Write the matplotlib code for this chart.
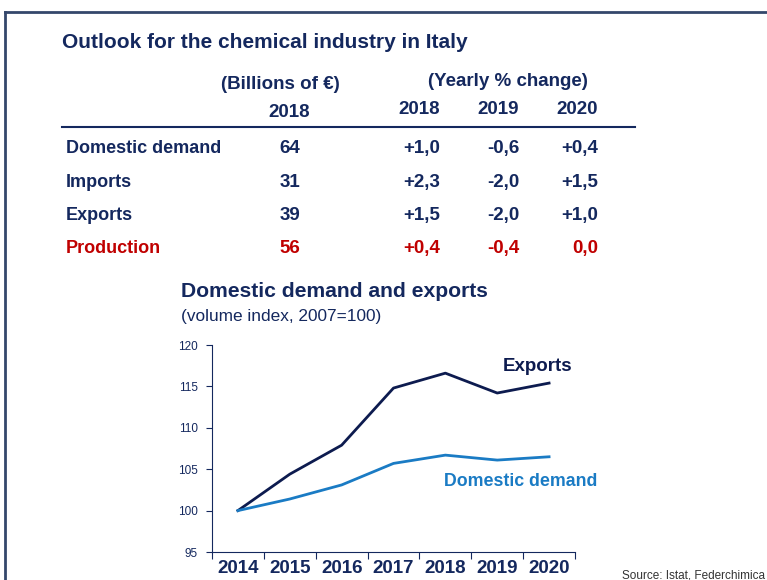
import matplotlib.pyplot as plt

# Table data
row_names = ['Domestic demand', 'Imports', 'Exports', 'Production']
value_2018 = ['64', '31', '39', '56']
change_2018 = ['+1,0', '+2,3', '+1,5', '+0,4']
change_2019 = ['-0,6', '-2,0', '-2,0', '-0,4']
change_2020 = ['+0,4', '+1,5', '+1,0', '0,0']

# Volume index series
years = ['2014', '2015', '2016', '2017', '2018', '2019', '2020']
exports = [100.0, 104.4, 107.9, 114.8, 116.6, 114.2, 115.4]
domestic = [100.0, 101.4, 103.1, 105.7, 106.7, 106.1, 106.5]

plt.rcParams['font.family'] = ['Liberation Sans', 'DejaVu Sans']

NAVY = '#14285e'
DARK = '#0d1b4f'
BLUE = '#1a7bc4'
RED = '#c00000'
W, H = 767, 580

fig = plt.figure(figsize=(W / 100, H / 100), dpi=100)
fig.patch.set_facecolor('white')


def px(x, y):
    return x / W, 1 - y / H


def txt(x, y, s, **kw):
    kw.setdefault('color', NAVY)
    kw.setdefault('va', 'baseline')
    fig.text(*px(x, y), s, **kw)


# frame around the slide
fig.add_artist(plt.Line2D([5 / W, 1], [1 - 12 / H] * 2, color='#34476b', lw=2))
fig.add_artist(plt.Line2D([5 / W] * 2, [0, 1 - 12 / H], color='#34476b', lw=2))

txt(62, 48, 'Outlook for the chemical industry in Italy', fontsize=15, fontweight='bold')
txt(280, 89, '(Billions of €)', fontsize=13.5, fontweight='bold', ha='center')
txt(508, 86, '(Yearly % change)', fontsize=13.5, fontweight='bold', ha='center')
txt(289, 117, '2018', fontsize=13.5, fontweight='bold', ha='center')
for x, s in zip([440, 519, 598], ['2018', '2019', '2020']):
    txt(x, 114, s, fontsize=13.5, fontweight='bold', ha='right')
fig.add_artist(plt.Line2D([62 / W, 635 / W], [1 - 127 / H] * 2, color=NAVY, lw=1.5))

row_y = [153, 187, 220, 253]
for i, y in enumerate(row_y):
    c = RED if row_names[i] == 'Production' else NAVY
    txt(66, y, row_names[i], fontsize=13, fontweight='bold', color=c)
    txt(290, y, value_2018[i], fontsize=13.5, fontweight='bold', color=c, ha='center')
    for x, col in zip([440, 519, 598], [change_2018, change_2019, change_2020]):
        txt(x, y, col[i], fontsize=13.5, fontweight='bold', color=c, ha='right')

txt(181, 297, 'Domestic demand and exports', fontsize=15.2, fontweight='bold')
txt(181, 321, '(volume index, 2007=100)', fontsize=12.4)

# line chart
x0, x1, y0, y1 = 212, 575, 345, 552
ax = fig.add_axes([x0 / W, 1 - y1 / H, (x1 - x0) / W, (y1 - y0) / H])
xs = range(len(years))
ax.plot(xs, exports, color=DARK, lw=2)
ax.plot(xs, domestic, color=BLUE, lw=2)
ax.set_xlim(-0.5, len(years) - 0.5)
ax.set_ylim(95, 120)
ax.set_yticks([95, 100, 105, 110, 115, 120])
ax.tick_params(axis='y', labelsize=8.5, colors=NAVY, length=4, width=0.8, pad=6)
ax.set_xticks(list(xs))
ax.set_xticklabels(years, fontsize=13.5, fontweight='bold', color=NAVY)
ax.tick_params(axis='x', which='major', length=0, pad=6)
ax.set_xticks([i - 0.5 for i in range(len(years) + 1)], minor=True)
ax.tick_params(axis='x', which='minor', length=5, width=0.8, color=NAVY)
for s in ['top', 'right']:
    ax.spines[s].set_visible(False)
for s in ['left', 'bottom']:
    ax.spines[s].set_color(NAVY)
    ax.spines[s].set_linewidth(0.8)

txt(538, 371, 'Exports', fontsize=13.5, fontweight='bold', color=DARK, ha='center')
txt(521, 486, 'Domestic demand', fontsize=12.8, fontweight='bold', color=BLUE, ha='center')

txt(622, 578, 'Source: Istat, Federchimica', fontsize=8.5, color='#333333')

fig.savefig('out.png', dpi=100)
